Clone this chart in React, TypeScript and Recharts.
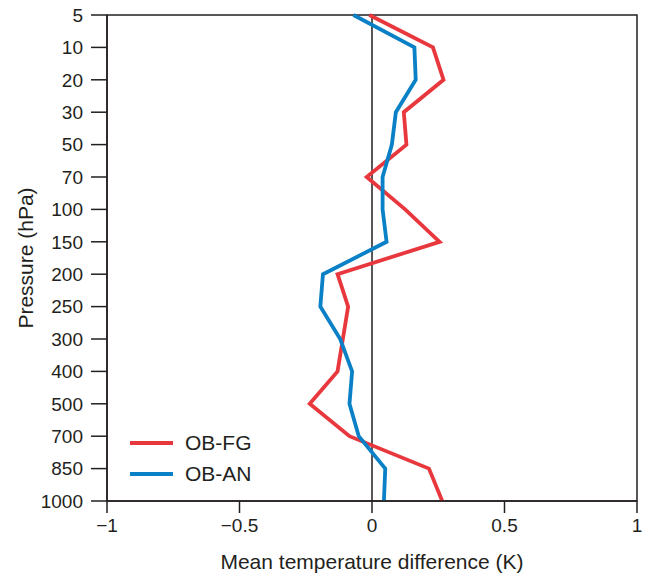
import { Legend, LineChart, Line, ReferenceArea, ReferenceLine, XAxis, YAxis } from "recharts"

// pressure levels (hPa), top of the profile first
const pressureLevels = ['5', '10', '20', '30', '50', '70', '100', '150', '200', '250', '300', '400', '500', '700', '850', '1000']

// mean temperature differences (K)
const obFg = [-0.01, 0.23, 0.27, 0.12, 0.13, -0.02, 0.125, 0.255, -0.13, -0.09, -0.11, -0.13, -0.235, -0.085, 0.215, 0.265]
const obAn = [-0.07, 0.16, 0.165, 0.09, 0.075, 0.04, 0.04, 0.055, -0.185, -0.195, -0.12, -0.075, -0.085, -0.05, 0.05, 0.045]

const xTicks = [-1, -0.5, 0, 0.5, 1]
const seriesOrder = ['OB-FG', 'OB-AN']

const data = pressureLevels.map((p, i) => ({ p, obFg: obFg[i], obAn: obAn[i] }))

const RED = '#e8383d'
const BLUE = '#0a80c6'
const INK = '#231f20'

const formatX = (v: number) => (v < 0 ? '\u2212' + Math.abs(v) : String(v))

const renderXLabel = (props: any) => {
    const { x, y, width } = props.viewBox
    return (
        <text x={x + width / 2} y={y + 68} textAnchor="middle" fontSize={21} fill={INK}>
            Mean temperature difference (K)
        </text>
    )
}

const renderYLabel = (props: any) => {
    const { x, y, height } = props.viewBox
    const cx = x + 25
    const cy = y + height / 2
    return (
        <text x={cx} y={cy} textAnchor="middle" fontSize={21} fill={INK} transform={`rotate(-90, ${cx}, ${cy})`}>
            Pressure (hPa)
        </text>
    )
}

const renderLegend = (props: any) => {
    const items = [...props.payload].sort((a: any, b: any) => seriesOrder.indexOf(a.value) - seriesOrder.indexOf(b.value))
    return (
        <div>
            {items.map((entry: any) => (
                <div key={entry.value} style={{ display: 'flex', alignItems: 'center', height: 31 }}>
                    <svg width={43} height={6} style={{ marginRight: 12 }}>
                        <line x1={0} y1={3} x2={43} y2={3} stroke={entry.color} strokeWidth={4} />
                    </svg>
                    <span style={{ fontSize: 21, color: INK }}>{entry.value}</span>
                </div>
            ))}
        </div>
    )
}

export default function App() {
    return (
        <div style={{ fontFamily: '"Liberation Sans", Arial, sans-serif', margin: '-8px 0 0 -8px' }}>
            <LineChart width={653} height={579} data={data} layout="vertical" margin={{ top: 15, right: 16, bottom: 0, left: 8 }}>
                <XAxis
                    type="number"
                    domain={[-1, 1]}
                    ticks={xTicks}
                    allowDataOverflow
                    height={78}
                    tickSize={12}
                    tickMargin={6}
                    tickFormatter={formatX}
                    tick={{ fontSize: 19, fill: INK }}
                    axisLine={{ stroke: INK, strokeWidth: 1.5 }}
                    tickLine={{ stroke: INK, strokeWidth: 1.5 }}
                    label={{ content: renderXLabel }}
                />
                <YAxis
                    type="category"
                    dataKey="p"
                    scale="point"
                    interval={0}
                    width={99}
                    tickSize={16}
                    tickMargin={8}
                    tick={{ fontSize: 19, fill: INK }}
                    axisLine={{ stroke: INK, strokeWidth: 1.5 }}
                    tickLine={{ stroke: INK, strokeWidth: 1.5 }}
                    label={{ content: renderYLabel }}
                />
                <ReferenceArea x1={-1} x2={1} fill="none" stroke={INK} strokeWidth={1.5} />
                <ReferenceLine x={0} stroke={INK} strokeWidth={1.5} />
                <Line name="OB-FG" dataKey="obFg" type="linear" stroke={RED} strokeWidth={3.8} dot={false} isAnimationActive={false} />
                <Line name="OB-AN" dataKey="obAn" type="linear" stroke={BLUE} strokeWidth={3.8} dot={false} isAnimationActive={false} />
                <Legend
                    layout="vertical"
                    align="center"
                    verticalAlign="middle"
                    content={renderLegend}
                    wrapperStyle={{ left: 130, top: 427 }}
                />
            </LineChart>
        </div>
    )
}
